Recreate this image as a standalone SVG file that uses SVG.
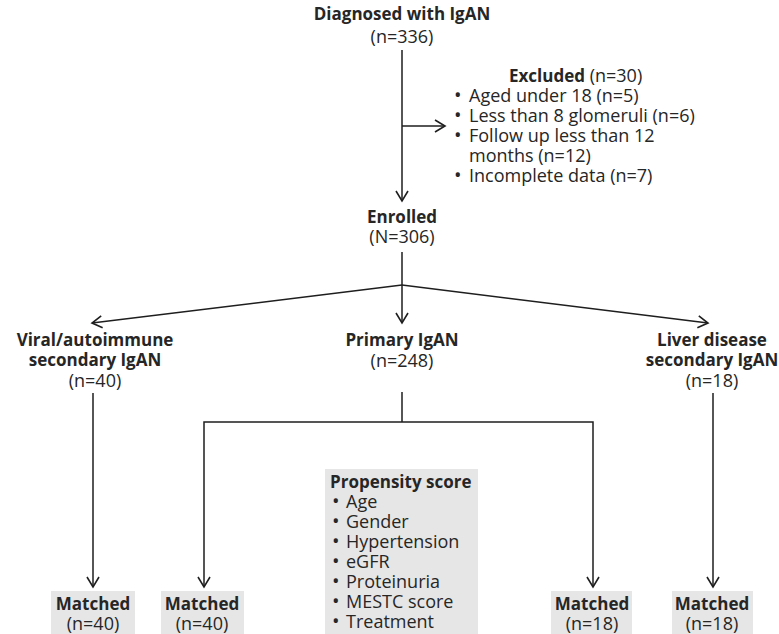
<svg xmlns="http://www.w3.org/2000/svg" width="779" height="634" viewBox="0 0 779 634">
<defs>
<marker id="arr" markerUnits="userSpaceOnUse" markerWidth="16" markerHeight="16" viewBox="-13 -8 16 16" refX="0" refY="0" orient="auto">
<path d="M-10,-6 L0,0 L-10,6" fill="none" stroke="#1e1e1e" stroke-width="1.6"/>
</marker>
<style>
text{font-family:"Open Sans","Liberation Sans",sans-serif;fill:#262626;font-size:18px}
.b{font-weight:bold;font-size:17px}
.c{text-anchor:middle}
.bu{font-size:20px}
.ln{fill:none;stroke:#1e1e1e;stroke-width:1.5}
.box{fill:#e6e6e6}
</style>
</defs>
<rect width="779" height="634" fill="#ffffff"/>
<g id="connectors">
<path class="ln" d="M402,50 V201" marker-end="url(#arr)"/>
<path class="ln" d="M402,126 H445" marker-end="url(#arr)"/>
<path class="ln" d="M402,252 V285"/>
<path class="ln" d="M402,285 L92,323" marker-end="url(#arr)"/>
<path class="ln" d="M402,285 V323" marker-end="url(#arr)"/>
<path class="ln" d="M402,285 L708,323" marker-end="url(#arr)"/>
<path class="ln" d="M93,393 V587" marker-end="url(#arr)"/>
<path class="ln" d="M402,392 V422"/>
<path class="ln" d="M402,422 H204 V587" marker-end="url(#arr)"/>
<path class="ln" d="M402,422 H593 V587" marker-end="url(#arr)"/>
<path class="ln" d="M713,393 V587" marker-end="url(#arr)"/>
</g>
<g id="diagnosed">
<text class="c"><tspan class="b" x="402" y="20">Diagnosed with IgAN</tspan><tspan x="402" y="43">(n=336)</tspan></text>
</g>
<g id="excluded">
<text><tspan x="509" y="82"><tspan class="b">Excluded</tspan> (n=30)</tspan><tspan class="bu" x="454" y="102">•</tspan><tspan x="469" y="102">Aged under 18 (n=5)</tspan><tspan class="bu" x="454" y="122">•</tspan><tspan x="469" y="122">Less than 8 glomeruli (n=6)</tspan><tspan class="bu" x="454" y="142">•</tspan><tspan x="469" y="142">Follow up less than 12</tspan><tspan x="469" y="162">months (n=12)</tspan><tspan class="bu" x="454" y="182">•</tspan><tspan x="469" y="182">Incomplete data (n=7)</tspan></text>
</g>
<g id="enrolled">
<text class="c"><tspan class="b" x="402" y="223">Enrolled</tspan><tspan x="402" y="243">(N=306)</tspan></text>
</g>
<g id="viral">
<text class="c"><tspan class="b" x="95" y="346">Viral/autoimmune</tspan><tspan class="b" x="95" y="366">secondary IgAN</tspan><tspan x="95" y="387">(n=40)</tspan></text>
</g>
<g id="primary">
<text class="c"><tspan class="b" x="402" y="346">Primary IgAN</tspan><tspan x="402" y="367">(n=248)</tspan></text>
</g>
<g id="liver">
<text class="c"><tspan class="b" x="712" y="346">Liver disease</tspan><tspan class="b" x="712" y="366">secondary IgAN</tspan><tspan x="712" y="387">(n=18)</tspan></text>
</g>
<g id="propensity">
<rect class="box" x="325" y="469" width="153" height="165"/>
<text><tspan class="b" x="330" y="488">Propensity score</tspan><tspan class="bu" x="332" y="508">•</tspan><tspan x="346" y="508">Age</tspan><tspan class="bu" x="332" y="528">•</tspan><tspan x="346" y="528">Gender</tspan><tspan class="bu" x="332" y="548">•</tspan><tspan x="346" y="548">Hypertension</tspan><tspan class="bu" x="332" y="568">•</tspan><tspan x="346" y="568">eGFR</tspan><tspan class="bu" x="332" y="588">•</tspan><tspan x="346" y="588">Proteinuria</tspan><tspan class="bu" x="332" y="608">•</tspan><tspan x="346" y="608">MESTC score</tspan><tspan class="bu" x="332" y="628">•</tspan><tspan x="346" y="628">Treatment</tspan></text>
</g>
<g id="matched1">
<rect class="box" x="51" y="591" width="84" height="43"/>
<text class="c"><tspan class="b" x="93" y="610">Matched</tspan><tspan x="93" y="630">(n=40)</tspan></text>
</g>
<g id="matched2">
<rect class="box" x="161" y="591" width="83" height="43"/>
<text class="c"><tspan class="b" x="202" y="610">Matched</tspan><tspan x="202" y="630">(n=40)</tspan></text>
</g>
<g id="matched3">
<rect class="box" x="551" y="591" width="81" height="43"/>
<text class="c"><tspan class="b" x="592" y="610">Matched</tspan><tspan x="592" y="630">(n=18)</tspan></text>
</g>
<g id="matched4">
<rect class="box" x="672" y="591" width="81" height="43"/>
<text class="c"><tspan class="b" x="712" y="610">Matched</tspan><tspan x="712" y="630">(n=18)</tspan></text>
</g>
</svg>
